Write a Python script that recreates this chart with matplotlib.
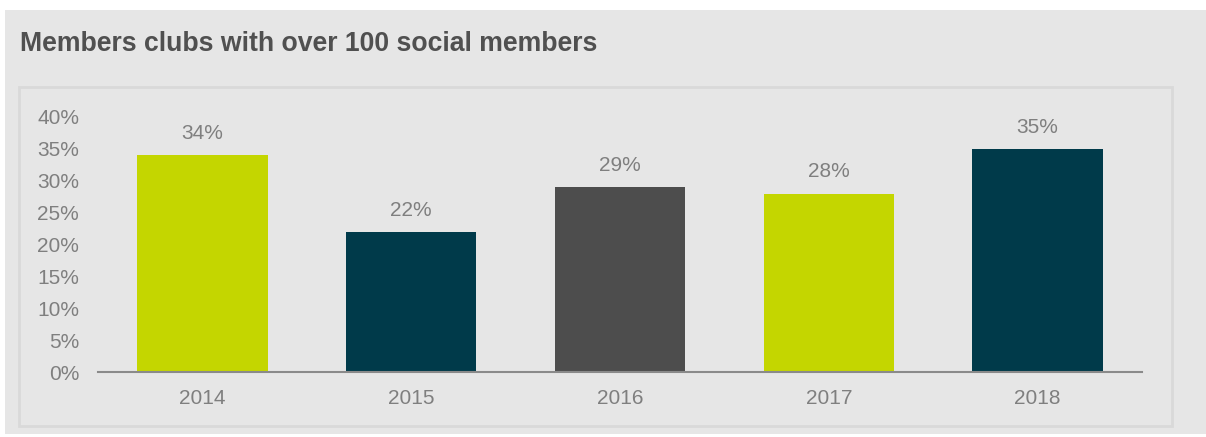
import matplotlib
matplotlib.use('Agg')
import matplotlib.pyplot as plt
from matplotlib.patches import Rectangle

plt.rcParams['font.family'] = ['Liberation Sans', 'DejaVu Sans']

years = ['2014', '2015', '2016', '2017', '2018']
share = [34, 22, 29, 28, 35]
colors = ['#c4d600', '#003a4a', '#4d4d4d', '#c4d600', '#003a4a']
yticks = [0, 5, 10, 15, 20, 25, 30, 35, 40]

W, H = 1206, 437
fig = plt.figure(figsize=(W / 100, H / 100), dpi=100)
fig.patch.set_facecolor('white')

# grey card behind everything
fig.patches.append(Rectangle((5 / W, 1 - 434 / H), (W - 5) / W, (434 - 10) / H,
                             transform=fig.transFigure, facecolor='#e6e6e6',
                             edgecolor='none', zorder=0))
# inner framed box around the plot
fig.patches.append(Rectangle((19 / W, 1 - 426 / H), (1172 - 19) / W, (426 - 87) / H,
                             transform=fig.transFigure, facecolor='none',
                             edgecolor='#d9d9d9', linewidth=2, zorder=1))

fig.text(20 / W, 1 - 44 / H, 'Members clubs with over 100 social members',
         fontsize=19.2, fontweight='bold', color='#505050', va='center', ha='left')

ax = fig.add_axes([98 / W, 1 - 372 / H, (1142 - 98) / W, (372 - 117) / H])
ax.set_zorder(5)
ax.set_facecolor('none')

x = range(len(years))
bars = ax.bar(x, share, width=0.625, color=colors, zorder=2)
for xi, v in zip(x, share):
    ax.text(xi, v + 1.9, f'{v}%', ha='center', va='bottom', fontsize=15, color='#7f7f7f')

ax.set_xlim(-0.5, len(years) - 0.5)
ax.set_ylim(0, 40)
ax.set_yticks(yticks)
ax.set_yticklabels([f'{t}%' for t in yticks])
ax.set_xticks(list(x))
ax.set_xticklabels(years)
ax.tick_params(axis='both', length=0, labelsize=15, labelcolor='#7f7f7f')
ax.tick_params(axis='y', pad=13.5)
ax.tick_params(axis='x', pad=12.5)

for s in ['top', 'right', 'left']:
    ax.spines[s].set_visible(False)
ax.spines['bottom'].set_color('#8a8a8a')
ax.spines['bottom'].set_linewidth(1.5)
ax.spines['bottom'].set_zorder(3)

fig.savefig('out.png', dpi=100, facecolor=fig.get_facecolor())
